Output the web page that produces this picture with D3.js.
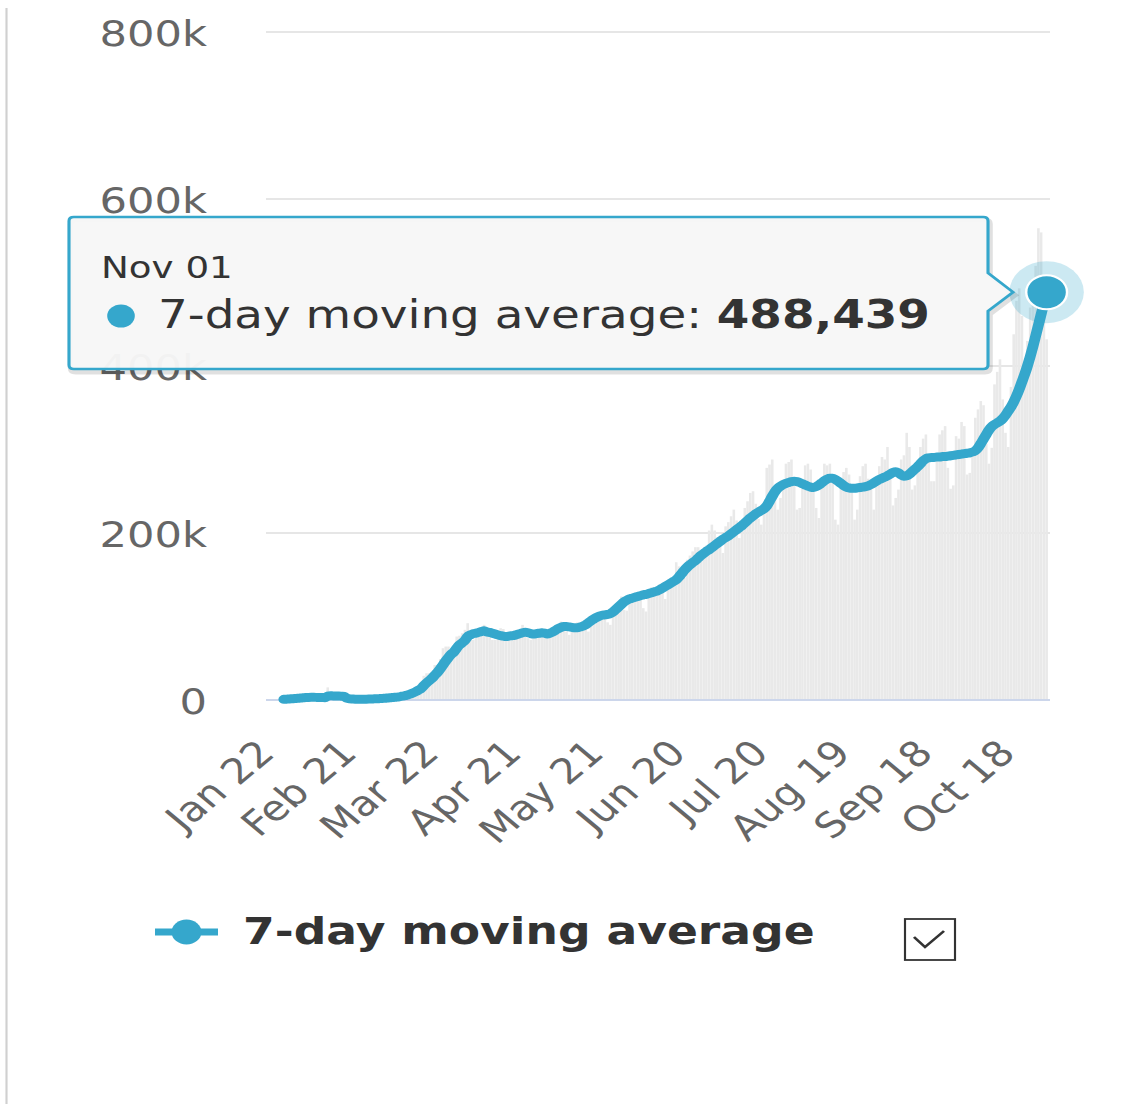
<!DOCTYPE html>
<html>
<head>
<meta charset="utf-8">
<script src="https://cdn.jsdelivr.net/npm/d3@7"></script>
<style>
  html, body { margin: 0; padding: 0; background: #fff; }
  svg { display: block; font-family: "DejaVu Sans", Verdana, sans-serif; }
</style>
</head>
<body>
<svg id="chart"></svg>
<script>
// daily new cases (thousands), Jan 22 .. Nov 01 2020
var dailyK = [
  0.6, 0.1, 0.3, 0.7, 0.8, 1.3, 1.8, 1.4, 1.7, 2.0,
  2.1, 2.6, 3.2, 3.9, 3.7, 3.2, 3.4, 2.7, 3.0, 2.5,
  2.0, 2.0, 15.1, 6.5, 2.1, 2.1, 2.0, 1.9, 0.5, 0.9,
  1.0, 1.0, 0.7, 0.5, 0.9, 0.9, 1.2, 1.4, 1.8, 2.0,
  1.9, 2.4, 2.3, 2.8, 3.9, 3.9, 4.3, 4.2, 4.9, 7.3,
  8.1, 11, 11, 13, 15, 17, 19, 29, 32, 32,
  33, 42, 41, 49, 62, 64, 64, 59, 61, 76,
  77, 80, 84, 92, 75, 72, 77, 85, 87, 90,
  82, 76, 72, 72, 81, 86, 85, 81, 74, 73,
  75, 76, 83, 90, 85, 74, 72, 75, 80, 84,
  86, 82, 77, 76, 81, 88, 91, 94, 93, 82,
  78, 84, 87, 93, 92, 94, 86, 82, 90, 95,
  104, 105, 103, 97, 93, 90, 102, 107, 116, 124,
  108, 107, 116, 121, 126, 129, 128, 110, 106, 122,
  135, 135, 134, 139, 133, 121, 143, 145, 145, 165,
  160, 145, 146, 168, 173, 178, 183, 183, 167, 170,
  185, 203, 210, 203, 195, 190, 176, 208, 213, 220,
  228, 215, 194, 207, 230, 238, 248, 250, 235, 217,
  210, 227, 278, 282, 288, 254, 228, 242, 263, 283,
  285, 288, 260, 228, 230, 260, 281, 283, 276, 256,
  230, 218, 265, 283, 281, 283, 260, 216, 210, 255,
  273, 278, 270, 255, 216, 228, 268, 280, 283, 265,
  260, 228, 256, 280, 291, 288, 303, 268, 233, 242,
  252, 288, 293, 320, 303, 252, 257, 282, 303, 313,
  318, 290, 262, 262, 290, 318, 323, 328, 278, 253,
  257, 316, 313, 333, 328, 270, 272, 300, 338, 348,
  358, 353, 307, 283, 302, 378, 393, 408, 360, 320,
  303, 375, 438, 478, 493, 460, 398, 430, 470, 500,
  520, 565, 560, 462, 432
]

// 7-day moving average (thousands)
var avgK = [
  null, null, null, null, null, null, 0.8, 1.0, 1.2, 1.5,
  1.8, 2.0, 2.3, 2.6, 2.9, 3.1, 3.2, 3.2, 3.1, 3.0,
  2.9, 2.8, 4.6, 5.0, 4.9, 4.9, 4.8, 4.5, 4.2, 2.1,
  1.4, 1.2, 1.0, 0.9, 0.9, 0.9, 1.0, 1.1, 1.2, 1.4,
  1.5, 1.7, 1.9, 2.1, 2.5, 2.8, 3.1, 3.4, 3.8, 4.5,
  5.1, 6.1, 7.1, 8.4, 9.9, 11.7, 13.7, 17.2, 20.4, 23.2,
  26.0, 29.6, 33.0, 37.3, 42.0, 46.6, 51.0, 54.8, 57.5, 62.0,
  66.0, 68.5, 71.5, 76.0, 78.0, 79.5, 80.0, 81.0, 82.0, 83.0,
  81.5, 81.0, 80.0, 79.0, 78.0, 77.0, 76.5, 76.0, 76.5, 77.0,
  77.5, 78.5, 79.5, 80.5, 81.0, 80.5, 79.5, 79.0, 79.5, 80.0,
  80.5, 80.0, 79.0, 80.0, 81.5, 83.5, 85.5, 87.0, 88.0, 88.0,
  87.5, 87.0, 86.5, 86.5, 87.5, 88.5, 90.0, 92.5, 95.0, 97.0,
  99.0, 100.5, 101.5, 102.0, 102.5, 103.5, 105.5, 108.5, 111.5, 114.5,
  117.5, 119.5, 121.0, 122.0, 123.0, 124.0, 125.0, 126.0, 126.5, 127.5,
  128.5, 129.5, 130.5, 132.0, 134.0, 136.0, 138.0, 140.0, 142.0, 144.0,
  147.5, 151.5, 155.5, 159.0, 162.0, 164.5, 167.0, 170.0, 173.0, 175.5,
  178.0, 180.0, 182.5, 185.0, 187.5, 190.0, 192.5, 194.5, 196.5, 199.0,
  201.5, 204.0, 206.5, 209.0, 212.0, 215.0, 218.0, 220.5, 223.0, 225.0,
  227.0, 229.0, 232.5, 238.0, 244.0, 249.5, 253.5, 256.0, 258.0, 259.5,
  260.5, 261.5, 262.0, 261.5, 260.5, 259.0, 257.5, 256.0, 255.0, 254.5,
  255.5, 257.5, 260.0, 262.5, 264.5, 265.5, 265.5, 264.0, 262.0, 259.5,
  257.0, 255.0, 254.0, 253.5, 253.5, 254.0, 254.5, 255.0, 255.5, 256.5,
  258.0, 260.0, 262.0, 264.0, 265.5, 267.0, 268.5, 270.5, 272.5, 273.5,
  272.0, 269.5, 268.0, 268.5, 270.5, 273.5, 276.5, 279.5, 283.0, 286.5,
  289.0, 290.0, 290.5, 290.5, 291.0, 291.0, 291.5, 291.5, 292.0, 292.5,
  293.0, 293.5, 294.0, 294.5, 295.0, 295.5, 296.0, 297.0, 298.5, 302.0,
  307.0, 312.5, 318.0, 323.5, 327.5, 330.0, 332.0, 334.0, 337.0, 341.0,
  346.0, 351.0, 357.0, 364.0, 372.0, 381.0, 390.0, 400.0, 411.0, 423.0,
  436.0, 449.0, 462.0, 475.0, 488.439
]

var tickLabels = ["Jan 22", "Feb 21", "Mar 22", "Apr 21", "May 21",
                  "Jun 20", "Jul 20", "Aug 19", "Sep 18", "Oct 18"]
var yTicks = [0, 200, 400, 600, 800]
var seriesName = "7-day moving average"

var blue = "#35a7cc"
var fmtDay = d3.timeFormat("%b %d")
var start = new Date(2020, 0, 22)
var days = dailyK.map(function(d, i) { return d3.timeDay.offset(start, i) })
var cats = days.map(fmtDay)

// the picture is stretched sideways, so draw in a narrower box and let the svg widen it
var width = 1127, height = 1104, sx = 1.2
var X = function(px) { return px / sx }

var svg = d3.select("#chart")
    .attr("width", width)
    .attr("height", height)
    .attr("viewBox", "0 0 " + X(width) + " " + height)
    .attr("preserveAspectRatio", "none")

var x = d3.scaleBand()
    .domain(d3.range(cats.length))
    .range([X(266), X(1048)])
    .paddingInner(0.06)
    .paddingOuter(0.03)
var xc = function(i) { return x(i) + x.bandwidth() / 2 }

var y = d3.scaleLinear()
    .domain([0, 800])
    .range([700, 32])

// left frame line
svg.append("line")
    .attr("x1", X(6.5)).attr("x2", X(6.5))
    .attr("y1", 8).attr("y2", height)
    .attr("stroke", "#d0d0d0")
    .attr("stroke-width", 1.8)

// grid
svg.append("g")
    .selectAll("line")
    .data(yTicks.filter(function(d) { return d > 0 }))
    .enter()
    .append("line")
        .attr("x1", X(266)).attr("x2", X(1050))
        .attr("y1", d => y(d)).attr("y2", d => y(d))
        .attr("stroke", "#e6e6e6")
        .attr("stroke-width", 2)

svg.append("g")
    .selectAll("text")
    .data(yTicks)
    .enter()
    .append("text")
        .attr("x", X(207))
        .attr("y", d => y(d) + 14)
        .attr("text-anchor", "end")
        .attr("font-size", 36)
        .attr("fill", "#666")
        .text(d => d === 0 ? "0" : d + "k")

// daily bars
svg.append("g")
    .selectAll("rect")
    .data(dailyK)
    .enter()
    .append("rect")
        .attr("x", (d, i) => x(i))
        .attr("width", x.bandwidth())
        .attr("y", d => y(d))
        .attr("height", d => y(0) - y(d))
        .attr("fill", "#e9e9e9")

// x axis line
svg.append("line")
    .attr("x1", X(266)).attr("x2", X(1050))
    .attr("y1", y(0)).attr("y2", y(0))
    .attr("stroke", "#ccd6eb")
    .attr("stroke-width", 2)

// x labels
svg.append("g")
    .selectAll("text")
    .data(tickLabels)
    .enter()
    .append("text")
        .attr("transform", d => "translate(" + (xc(cats.indexOf(d)) + X(9)) + ",755) rotate(-45)")
        .attr("text-anchor", "end")
        .attr("font-size", 35)
        .attr("fill", "#666")
        .text(d => d)

// moving average line
var line = d3.line()
    .defined(d => d != null)
    .x((d, i) => xc(i))
    .y(d => y(d))
    .curve(d3.curveMonotoneX)

svg.append("path")
    .datum(avgK)
    .attr("d", line)
    .attr("fill", "none")
    .attr("stroke", blue)
    .attr("stroke-width", 9)
    .attr("stroke-linejoin", "round")
    .attr("stroke-linecap", "round")

// hovered point
var last = avgK.length - 1
var px = xc(last), py = y(avgK[last])
svg.append("circle")
    .attr("cx", px).attr("cy", py).attr("r", 31)
    .attr("fill", blue).attr("fill-opacity", 0.25)
svg.append("circle")
    .attr("cx", px).attr("cy", py).attr("r", 17)
    .attr("fill", blue)
    .attr("stroke", "#fff").attr("stroke-width", 2)

// tooltip
var tx0 = X(69), tx1 = X(988), ty0 = 217, ty1 = 369, rr = 4
var tipPath = "M" + (tx0 + rr) + "," + ty0 +
    "L" + (tx1 - rr) + "," + ty0 + "Q" + tx1 + "," + ty0 + " " + tx1 + "," + (ty0 + rr) +
    "L" + tx1 + ",273L" + X(1013) + "," + py + "L" + tx1 + ",311" +
    "L" + tx1 + "," + (ty1 - rr) + "Q" + tx1 + "," + ty1 + " " + (tx1 - rr) + "," + ty1 +
    "L" + (tx0 + rr) + "," + ty1 + "Q" + tx0 + "," + ty1 + " " + tx0 + "," + (ty1 - rr) +
    "L" + tx0 + "," + (ty0 + rr) + "Q" + tx0 + "," + ty0 + " " + (tx0 + rr) + "," + ty0 + "Z"

var tip = svg.append("g")
tip.append("path")
    .attr("d", tipPath)
    .attr("transform", "translate(1.5,3)")
    .attr("fill", "none")
    .attr("stroke", "#000")
    .attr("stroke-opacity", 0.12)
    .attr("stroke-width", 5)
tip.append("path")
    .attr("d", tipPath)
    .attr("fill", "#f7f7f7")
    .attr("fill-opacity", 0.97)
    .attr("stroke", blue)
    .attr("stroke-width", 2.6)
tip.append("text")
    .attr("x", X(101)).attr("y", 278)
    .attr("font-size", 31)
    .attr("fill", "#333")
    .text(cats[last])
tip.append("circle")
    .attr("cx", X(121)).attr("cy", 316).attr("r", 11.5)
    .attr("fill", blue)
var tipText = tip.append("text")
    .attr("x", X(158)).attr("y", 328)
    .attr("font-size", 39)
    .attr("fill", "#333")
tipText.append("tspan").text(seriesName + ": ")
tipText.append("tspan")
    .attr("font-weight", "bold")
    .text(d3.format(",")(Math.round(avgK[last] * 1000)))

// legend
var lg = svg.append("g")
lg.append("line")
    .attr("x1", X(155)).attr("x2", X(218))
    .attr("y1", 932).attr("y2", 932)
    .attr("stroke", blue).attr("stroke-width", 7)
lg.append("circle")
    .attr("cx", X(186.5)).attr("cy", 932).attr("r", 12.5)
    .attr("fill", blue)
lg.append("text")
    .attr("x", X(243)).attr("y", 944)
    .attr("font-size", 38)
    .attr("font-weight", "bold")
    .attr("fill", "#333")
    .text(seriesName)
lg.append("rect")
    .attr("x", X(905)).attr("y", 919)
    .attr("width", X(50)).attr("height", 41)
    .attr("fill", "#fff")
    .attr("stroke", "#333").attr("stroke-width", 1.8)
lg.append("path")
    .attr("d", "M" + X(914) + ",937L" + X(925) + ",947L" + X(944) + ",931")
    .attr("fill", "none")
    .attr("stroke", "#333").attr("stroke-width", 2.4)
</script>
</body>
</html>
